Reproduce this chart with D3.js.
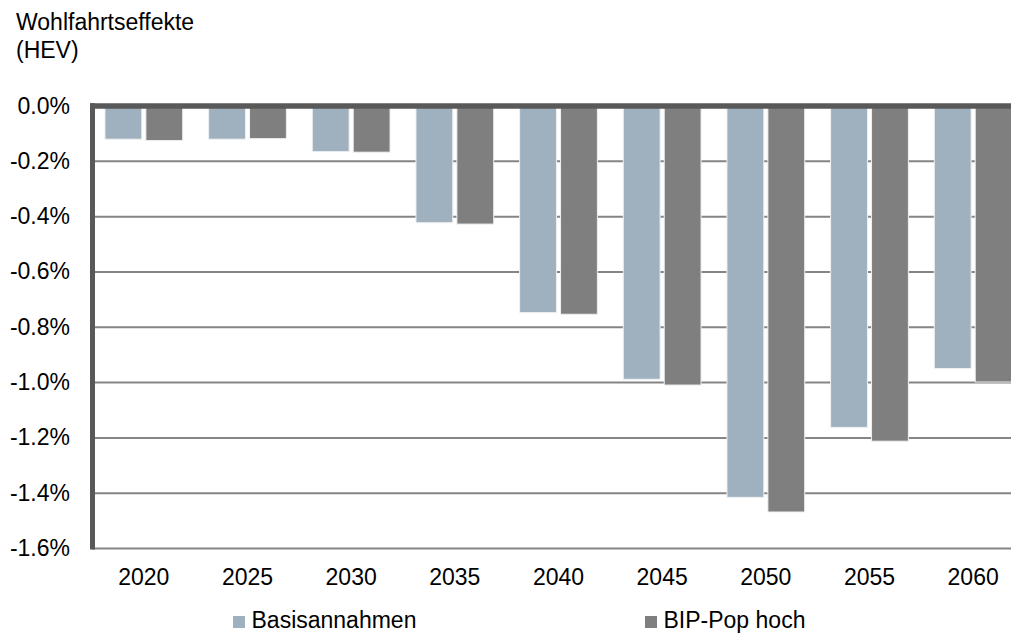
<!DOCTYPE html>
<html>
<head>
<meta charset="utf-8">
<script src="https://cdn.jsdelivr.net/npm/d3@7"></script>
<style>
  body { margin: 0; background: #fff; }
  text { font-family: "Liberation Sans", Arial, sans-serif; fill: #000; }
</style>
</head>
<body>
<svg id="chart" width="1011" height="634"></svg>
<script>
// data (percent)
var years = ['2020', '2025', '2030', '2035', '2040', '2045', '2050', '2055', '2060'];
var basis = [-0.12, -0.12, -0.165, -0.422, -0.747, -0.988, -1.415, -1.162, -0.949];
var bipPop = [-0.125, -0.118, -0.167, -0.427, -0.753, -1.009, -1.468, -1.212, -0.998];
var seriesNames = ['Basisannahmen', 'BIP-Pop hoch'];
var seriesColors = ['#9fb0be', '#7f7f7f'];
var yTicks = [0, -0.2, -0.4, -0.6, -0.8, -1.0, -1.2, -1.4, -1.6];

var svg = d3.select('#chart');

var y = d3.scaleLinear()
    .domain([0, -1.6])
    .range([106, 548.5]);

var x = d3.scaleBand()
    .domain(years)
    .range([92, 1025])
    .paddingInner(0.25)
    .paddingOuter(0.125);

var x1 = d3.scaleBand()
    .domain(seriesNames)
    .range([0, x.bandwidth()])
    .paddingInner(0.1);

// title
svg.append('text')
    .attr('x', 16)
    .attr('y', 30)
    .style('font-size', '23px')
    .text('Wohlfahrtseffekte');
svg.append('text')
    .attr('x', 16)
    .attr('y', 58)
    .style('font-size', '23px')
    .text('(HEV)');

// gridlines
svg.append('g')
    .selectAll('line')
    .data(yTicks.filter(d => d !== 0))
    .enter()
    .append('line')
        .attr('x1', 92)
        .attr('x2', 1011)
        .attr('y1', d => y(d))
        .attr('y2', d => y(d))
        .attr('stroke', '#858585')
        .attr('stroke-width', 2);

// y axis labels
var yAxis = d3.axisLeft(y)
    .tickValues(yTicks)
    .tickSize(0)
    .tickPadding(0)
    .tickFormat(d => d.toFixed(1) + '%');

var yG = svg.append('g')
    .attr('transform', 'translate(70,0)')
    .call(yAxis);
yG.select('.domain').remove();
yG.selectAll('text')
    .attr('dy', null)
    .attr('y', 7)
    .style('font-size', '23px')
    .style('font-family', '"Liberation Sans", Arial, sans-serif')
    .attr('fill', '#000');

// bars
var rows = years.map((yr, i) => ({ year: yr, values: [basis[i], bipPop[i]] }));

var groups = svg.append('g')
    .selectAll('g')
    .data(rows)
    .enter()
    .append('g')
    .attr('transform', d => 'translate(' + x(d.year) + ',0)');

groups.selectAll('rect')
    .data(d => d.values.map((v, j) => ({ name: seriesNames[j], value: v, color: seriesColors[j] })))
    .enter()
    .append('rect')
        .attr('x', d => x1(d.name))
        .attr('width', x1.bandwidth())
        .attr('y', y(0))
        .attr('height', d => y(d.value) - y(0))
        .attr('fill', d => d.color)
        .attr('stroke', '#eef0f2')
        .attr('stroke-width', 1);

// axis lines
svg.append('line')
    .attr('x1', 90)
    .attr('x2', 1011)
    .attr('y1', y(0))
    .attr('y2', y(0))
    .attr('stroke', '#595959')
    .attr('stroke-width', 5.5);
svg.append('line')
    .attr('x1', 92.5)
    .attr('x2', 92.5)
    .attr('y1', y(0) - 2.75)
    .attr('y2', y(-1.6) + 1)
    .attr('stroke', '#595959')
    .attr('stroke-width', 5);

// x labels
svg.append('g')
    .selectAll('text')
    .data(years)
    .enter()
    .append('text')
        .attr('x', d => x(d) + x.bandwidth() / 2)
        .attr('y', 585)
        .style('text-anchor', 'middle')
        .style('font-size', '23px')
        .text(d => d);

// legend
var legendX = [233, 645];
var legend = svg.append('g')
    .selectAll('g')
    .data(seriesNames)
    .enter()
    .append('g')
    .attr('transform', (d, i) => 'translate(' + legendX[i] + ',0)');

legend.append('rect')
    .attr('y', 616)
    .attr('width', 12)
    .attr('height', 12)
    .attr('fill', (d, i) => seriesColors[i]);

legend.append('text')
    .attr('x', 18.5)
    .attr('y', 628)
    .style('font-size', '23px')
    .text(d => d);
</script>
</body>
</html>
